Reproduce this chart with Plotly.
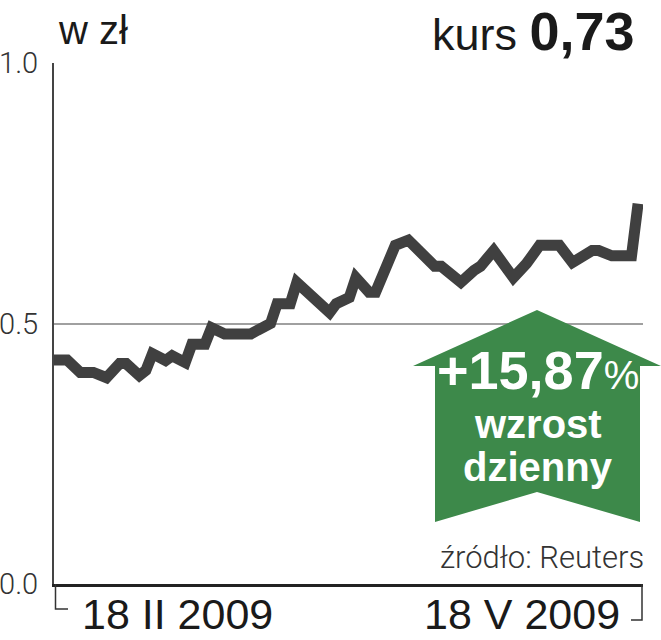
import plotly.graph_objects as go

# ---- data ----
dates = [
    "2009-02-18", "2009-02-20", "2009-02-22", "2009-02-24", "2009-02-26", "2009-02-28",
    "2009-03-01", "2009-03-03", "2009-03-04", "2009-03-05", "2009-03-07", "2009-03-08",
    "2009-03-10", "2009-03-11", "2009-03-13", "2009-03-14", "2009-03-16", "2009-03-20",
    "2009-03-21", "2009-03-23", "2009-03-24", "2009-03-26", "2009-03-27", "2009-03-29",
    "2009-04-01", "2009-04-02", "2009-04-04", "2009-04-05", "2009-04-07", "2009-04-08",
    "2009-04-11", "2009-04-13", "2009-04-14", "2009-04-17", "2009-04-18", "2009-04-21",
    "2009-04-23", "2009-04-24", "2009-04-26", "2009-04-29", "2009-05-01", "2009-05-03",
    "2009-05-06", "2009-05-08", "2009-05-11", "2009-05-12", "2009-05-14", "2009-05-17",
    "2009-05-18",
]
kurs = [
    0.430, 0.430, 0.406, 0.406, 0.396, 0.423,
    0.423, 0.400, 0.410, 0.442, 0.429, 0.438,
    0.425, 0.460, 0.460, 0.492, 0.480, 0.480,
    0.487, 0.500, 0.538, 0.538, 0.579, 0.554,
    0.521, 0.538, 0.550, 0.588, 0.560, 0.560,
    0.650, 0.660, 0.646, 0.610, 0.610, 0.579,
    0.602, 0.610, 0.640, 0.588, 0.615, 0.650,
    0.650, 0.617, 0.640, 0.640, 0.630, 0.630,
    0.730,
]
y_tickvals = [0.0, 0.5, 1.0]
y_ticktext = ["0.0", "0.5", "1.0"]
x_start_label = "18 II 2009"
x_end_label = "18 V 2009"
title_left = "w zł"
kurs_label = "kurs"
kurs_value = "0,73"
change_pct = "+15,87"
change_text = ["wzrost", "dzienny"]
source = "źródło: Reuters"

# ---- layout geometry (pixels) ----
W, H = 661, 640
L, R, T, B = 54, 643, 63, 584


def px(x):
    return (x - L) / (R - L)


def py(y):
    return (B - y) / (B - T)


GREEN = "rgb(61,137,74)"
LINE = "#404040"
FONT = "Liberation Sans"

fig = go.Figure()
fig.add_trace(go.Scatter(
    x=dates, y=kurs, mode="lines",
    line=dict(color=LINE, width=11),
    hoverinfo="skip", showlegend=False,
))

shapes = []
# green arrow
arrow_pts = [(537, 310), (661, 366), (640, 366), (640, 522), (537, 492),
             (435, 522), (435, 366), (413, 366)]
path = "M " + " L ".join(f"{px(x):.5f},{py(y):.5f}" for x, y in arrow_pts) + " Z"
shapes.append(dict(type="path", xref="paper", yref="paper", path=path,
                   fillcolor=GREEN, line=dict(width=0), layer="above"))
# brackets under axis
shapes.append(dict(type="path", xref="paper", yref="paper",
                   path=f"M {px(55.5)},{py(584)} L {px(55.5)},{py(609)} L {px(68)},{py(609)}",
                   line=dict(color="#333", width=1.5)))
shapes.append(dict(type="path", xref="paper", yref="paper",
                   path=f"M {px(642)},{py(584)} L {px(642)},{py(620)} L {px(631)},{py(620)}",
                   line=dict(color="#333", width=1.5)))

annotations = [
    dict(text=title_left, x=px(56), y=py(54), xanchor="left", yanchor="bottom",
         font=dict(family=FONT, size=40, color="#1a1a1a")),
    dict(text=f"{kurs_label} <b><span style='font-size:54px'>{kurs_value}</span></b>",
         x=px(637), y=py(63), xanchor="right", yanchor="bottom",
         font=dict(family=FONT, size=45, color="#1a1a1a")),
    dict(text=x_start_label, x=px(80), y=py(640), xanchor="left", yanchor="bottom",
         font=dict(family=FONT, size=43, color="#1a1a1a")),
    dict(text=x_end_label, x=px(622), y=py(640), xanchor="right", yanchor="bottom",
         font=dict(family=FONT, size=43, color="#1a1a1a")),
    dict(text=source, x=px(646), y=py(578), xanchor="right", yanchor="bottom",
         font=dict(family="Roboto", size=31, color="#333", weight=300)),
    dict(text=f"<b>{change_pct}</b><span style='font-size:40px'>%</span>", x=px(538), y=py(370),
         xanchor="center", yanchor="middle",
         font=dict(family=FONT, size=54, color="white")),
    dict(text=f"<b>{change_text[0]}</b>", x=px(538), y=py(424),
         xanchor="center", yanchor="middle",
         font=dict(family=FONT, size=40, color="white")),
    dict(text=f"<b>{change_text[1]}</b>", x=px(538), y=py(467),
         xanchor="center", yanchor="middle",
         font=dict(family=FONT, size=40, color="white")),
]
for a in annotations:
    a.update(xref="paper", yref="paper", showarrow=False)

fig.update_layout(
    width=W, height=H,
    margin=dict(l=L, r=W - R, t=T, b=H - B, pad=0, autoexpand=False),
    paper_bgcolor="white", plot_bgcolor="white",
    shapes=shapes, annotations=annotations,
    xaxis=dict(range=["2009-02-18", "2009-05-18 18:00"], showgrid=False, zeroline=False,
               showticklabels=False, ticks="", showline=True, linecolor="#222", linewidth=3,
               automargin=False, fixedrange=True),
    yaxis=dict(range=[0, 1], tickvals=y_tickvals, ticktext=y_ticktext,
               showgrid=True, gridcolor="#a0a0a0", gridwidth=2, zeroline=False,
               showline=True, linecolor="#444", linewidth=2, ticks="",
               ticklabelstandoff=8, automargin=False,
               tickfont=dict(family="Roboto", size=29, color="#333", weight=300),
               fixedrange=True),
)

fig.write_html("out.html", config={"displayModeBar": False},
               post_script="document.body.style.margin='0';")
